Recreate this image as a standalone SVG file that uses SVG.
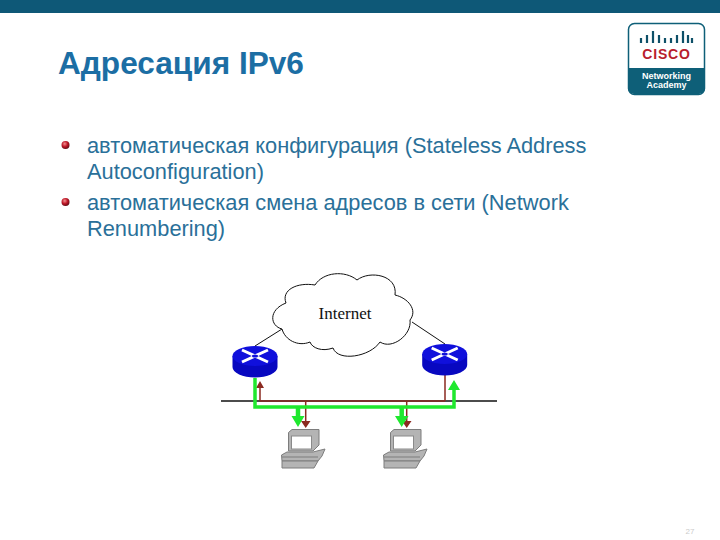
<svg xmlns="http://www.w3.org/2000/svg" width="720" height="540" viewBox="0 0 720 540">
<style>
text{font-family:"Liberation Sans",Arial,sans-serif}
.b{font-size:21.800px;fill:#2a7099}
.t{font-size:31.600px;font-weight:bold;fill:#1c6ea4}
.red{fill:none;stroke:#8b2a20;stroke-width:1.500}
.grn{fill:none;stroke:#1fe82e;stroke-width:3.500}
.grw{fill:none;stroke:#1fe82e;stroke-width:4.500}
.blk{fill:none;stroke:#111;stroke-width:1}
.pc{fill:#b4b4b4;stroke:#7d7d7d;stroke-width:1}
</style>
<defs>
<radialGradient id="ball" cx="0.4" cy="0.35" r="0.7"><stop offset="0" stop-color="#f09090"/><stop offset="0.5" stop-color="#c01828"/><stop offset="1" stop-color="#5a0a12"/></radialGradient>
<g id="router">
<path d="M-22.500,0V11A22.500,10.500 0 0 0 22.500,11V0Z" fill="#0808c0"/>
<ellipse cx="0" cy="0" rx="22.500" ry="10" fill="#1010dc"/>
<path d="M-13,-6L13,6M-13,6L13,-6" stroke="#fff" stroke-width="3" fill="none"/>
<ellipse cx="0" cy="0" rx="3" ry="1.500" fill="#1010dc"/>
</g>
<g id="pc">
<path class="pc" d="M288.500,432.500L292,429.500H319V445L313,451H288.500Z"/>
<rect x="291.500" y="436" width="20" height="13" fill="#fff" stroke="#8a8a8a"/>
<path class="pc" d="M287,452H313L325,449L322,456L318,461H282L281.500,455Z"/>
<path class="pc" d="M282,461H318L314,468H282Z"/>
<path d="M282,457H318" stroke="#7d7d7d" fill="none"/>
</g>
</defs>
<rect width="720" height="540" fill="#fff"/>
<rect width="720" height="13" fill="#0e5877"/>
<text class="t" x="58" y="74">Адресация IPv6</text>
<g id="logo">
<rect x="628.500" y="23.500" width="76" height="71" rx="6" fill="#fff" stroke="#0e5f78" stroke-width="1.500"/>
<path d="M628,68H705V88a6,6 0 0 1 -6,6H634a6,6 0 0 1 -6,-6Z" fill="#0e5f78"/>
<path d="M641,38V43M647,35V43M653,31V43M659,35V43M665,38V43M671,38V43M677,35V43M683,31V43M688,35V43M692,38V43" stroke="#0e5068" stroke-width="2.200" fill="none"/>
<text x="666.500" y="59" text-anchor="middle" font-size="14" font-weight="bold" letter-spacing="0.800" style="fill:#b8202c">CISCO</text>
<text x="666.500" y="79" text-anchor="middle" font-size="9" font-weight="bold" style="fill:#fff">Networking</text>
<text x="666.500" y="88" text-anchor="middle" font-size="9" font-weight="bold" style="fill:#fff">Academy</text>
</g>
<circle cx="65.500" cy="145" r="4" fill="url(#ball)"/>
<circle cx="65.500" cy="202" r="4" fill="url(#ball)"/>
<text class="b" x="87" y="153">автоматическая конфигурация (Stateless Address</text>
<text class="b" x="87" y="179">Autoconfiguration)</text>
<text class="b" x="87" y="210">автоматическая смена адресов в сети (Network</text>
<text class="b" x="87" y="236">Renumbering)</text>
<g id="connectors">
<path class="blk" d="M255,346L282,329M445,344L412,322"/>
<path d="M221,401H497" stroke="#111" stroke-width="1.500"/>
<path d="M260,401H445" stroke="#8b2a20" stroke-width="1.500"/>
<path class="red" d="M260,401V384M445,401V375M305.700,401V424M406.700,401V424"/>
<path fill="#8b2a20" d="M260,381L256,388H264ZM305.700,428L301,421H310.500ZM406.700,428L402,421H411.500Z"/>
<path class="grn" d="M255,378V407H454V388"/>
<path class="grw" d="M298,407V420M401.700,407V420"/>
<path fill="#1fe82e" d="M454,380L448,390H460ZM298,427L291.500,416H304.500ZM401.700,427L395,416H408.500Z"/>
</g>
<g id="internet">
<path fill="#fff" stroke="#111" stroke-width="1" d="M282,329C270,326 268,310 286,303C281,290 297,282 315,285C323,272 345,270 357,280C370,270 398,275 395,295C408,298 418,310 410,320C412,335 392,350 380,342C370,357 338,362 333,348C322,352 312,348 310,342C298,347 285,340 282,329Z"/>
<text x="345" y="319" text-anchor="middle" font-size="17" style="font-family:'Liberation Serif',serif;fill:#111">Internet</text>
</g>
<use id="router-left" href="#router" x="255" y="356"/>
<use id="router-right" href="#router" x="444.700" y="354"/>
<use id="pc-left" href="#pc"/>
<use id="pc-right" href="#pc" x="102"/>
<text x="690" y="534" text-anchor="middle" font-size="8" style="fill:#cccccc">27</text>
</svg>
